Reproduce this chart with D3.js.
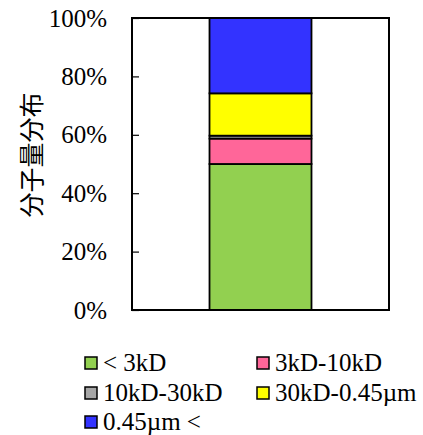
<!DOCTYPE html>
<html>
<head>
<meta charset="utf-8">
<script src="https://cdn.jsdelivr.net/npm/d3@7"></script>
<style>
  html, body { margin: 0; padding: 0; background: #fff; }
  svg { display: block; }
  .serif { font-family: "Liberation Serif", "Times New Roman", "DejaVu Serif", serif; }
</style>
</head>
<body>
<div id="chart"></div>
<script>
// Molecular-weight fractions for a single sample (percent of total)
const seriesNames = ["< 3kD", "3kD-10kD", "10kD-30kD", "30kD-0.45\u00b5m", "0.45\u00b5m <"];
const seriesValues = [50.0, 8.7, 1.0, 14.5, 25.8];
const seriesColors = ["#92d050", "#ff6699", "#a6a6a6", "#ffff00", "#3333ff"];
const categories = ["sample"];
const tickValues = [0, 20, 40, 60, 80, 100];
const yTitle = "分子量分布";

const W = 423, H = 435;
const margin = { left: 132, right: 34, top: 18, bottom: 125 };
const innerW = W - margin.left - margin.right;
const innerH = H - margin.top - margin.bottom;

const svg = d3.select("#chart").append("svg")
  .attr("width", W).attr("height", H);

const g = svg.append("g").attr("transform", `translate(${margin.left},${margin.top})`);

const x = d3.scaleBand().domain(categories).range([0, innerW]).paddingInner(0).paddingOuter(0.76);
const y = d3.scaleLinear().domain([0, 100]).range([innerH, 0]);

// stacked segments
const row = { cat: categories[0] };
seriesNames.forEach((n, i) => row[n] = seriesValues[i]);
const stack = d3.stack().keys(seriesNames)([row]);

g.selectAll("rect.seg").data(stack).join("rect")
  .attr("class", "seg")
  .attr("x", d => x(d[0].data.cat))
  .attr("width", x.bandwidth())
  .attr("y", d => y(d[0][1]))
  .attr("height", d => y(d[0][0]) - y(d[0][1]))
  .attr("fill", (d, i) => seriesColors[i])
  .attr("stroke", "#000")
  .attr("stroke-width", 1.8);

// y axis with inward ticks
const yAxis = d3.axisLeft(y).tickValues(tickValues).tickFormat(d => d + "%").tickSize(-7).tickPadding(25);
const ya = g.append("g").call(yAxis).attr("font-family", null).attr("font-size", null);
ya.select(".domain").remove();
ya.selectAll("line").attr("stroke", "#000").attr("stroke-width", 1.2);
ya.selectAll("text")
  .attr("class", "serif")
  .style("font-size", "25px")
  .attr("fill", "#000");

// plot frame
g.append("rect").attr("x", 0).attr("y", 0).attr("width", innerW).attr("height", innerH)
  .attr("fill", "none").attr("stroke", "#000").attr("stroke-width", 2);

// y title
svg.append("text")
  .attr("transform", `translate(32,155) rotate(-90)`)
  .attr("text-anchor", "middle")
  .attr("dy", "0.35em")
  .style("font-family", "'Noto Sans CJK JP', sans-serif")
  .style("font-size", "25px")
  .attr("fill", "#000")
  .text(yTitle);

// legend
const legendCols = [85, 257];
const legendRows = [363, 393, 422];
const lg = svg.append("g");
seriesNames.forEach((n, i) => {
  const cx = legendCols[i % 2], cy = legendRows[Math.floor(i / 2)];
  lg.append("rect").attr("x", cx).attr("y", cy - 6).attr("width", 12).attr("height", 12)
    .attr("fill", seriesColors[i]).attr("stroke", "#000").attr("stroke-width", 1.5);
  lg.append("text").attr("x", cx + 18).attr("y", cy).attr("dy", "0.33em")
    .attr("class", "serif")
    .style("font-size", "25px").attr("fill", "#000")
    .text(n);
});
</script>
</body>
</html>
